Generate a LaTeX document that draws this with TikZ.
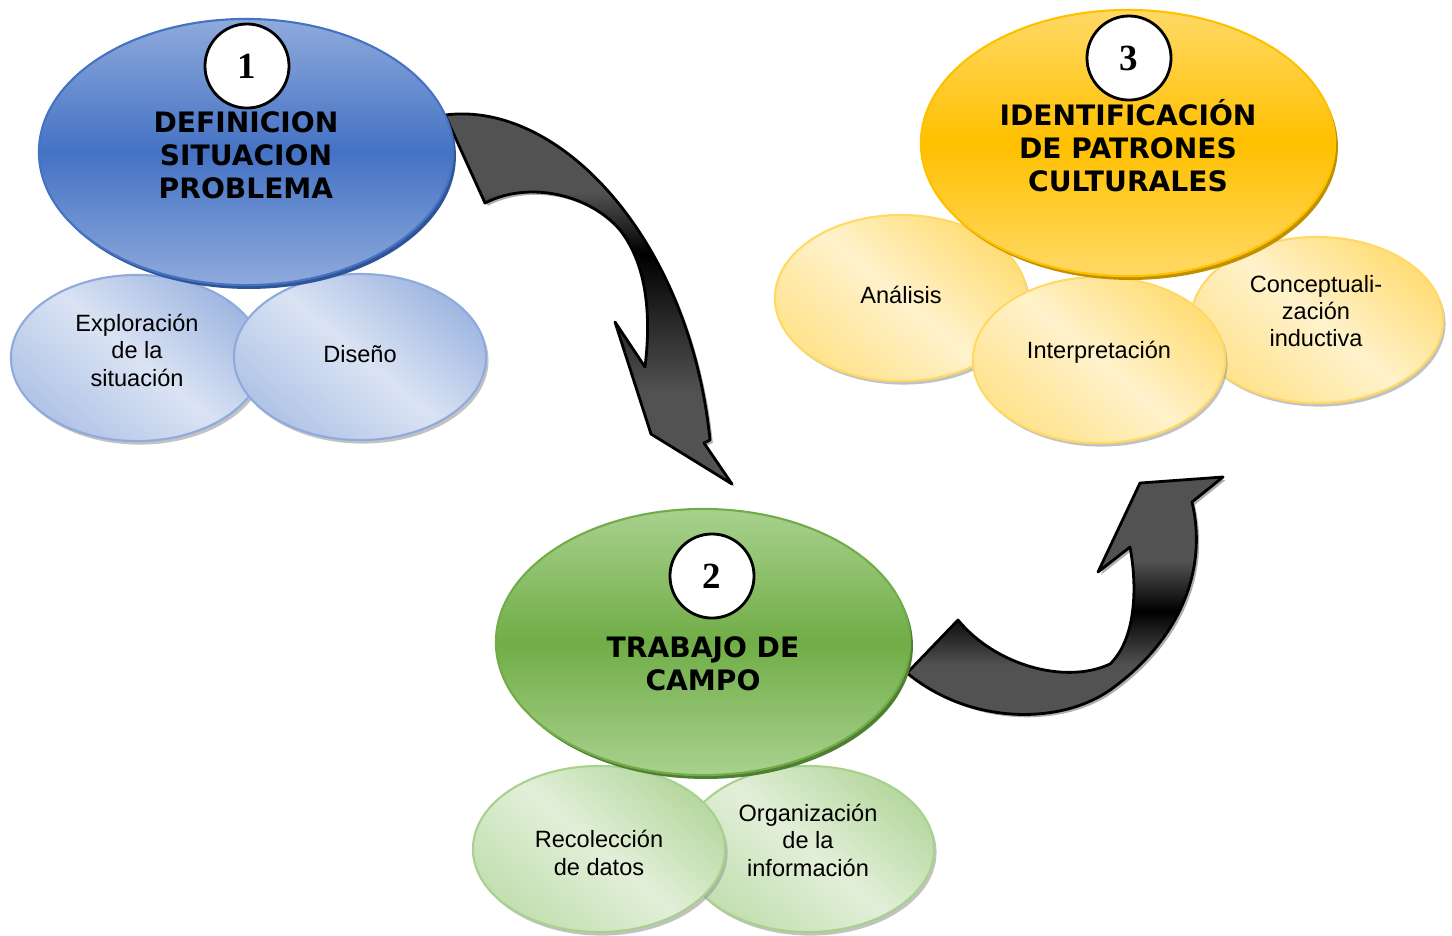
\documentclass[tikz,border=0pt]{standalone}
\usepackage{fontspec}
\setmainfont{Liberation Sans}
\newfontfamily\titlefont{DejaVu Sans}
\newfontfamily\numfont{Liberation Serif}
\usetikzlibrary{shapes.geometric,shadows}

\definecolor{blDark}{HTML}{2F5597}
\definecolor{blMid}{HTML}{4472C4}
\definecolor{blLight}{HTML}{8FAADC}
\definecolor{blPale}{HTML}{DAE3F3}
\definecolor{grDark}{HTML}{507E32}
\definecolor{grMid}{HTML}{70AD47}
\definecolor{grLight}{HTML}{A9D18E}
\definecolor{grPale}{HTML}{E2EFD9}
\definecolor{orDark}{HTML}{BF9000}
\definecolor{orMid}{HTML}{FFC000}
\definecolor{orLight}{HTML}{FFD966}
\definecolor{orPale}{HTML}{FFF2CC}
\definecolor{arGray}{HTML}{525252}

\pgfdeclareverticalshading{arrowA}{100bp}{color(0bp)=(arGray); color(37bp)=(arGray); color(55bp)=(black); color(63bp)=(arGray); color(100bp)=(arGray)}
\pgfdeclareverticalshading{arrowB}{100bp}{color(0bp)=(arGray); color(37bp)=(arGray); color(48bp)=(black); color(58bp)=(arGray); color(100bp)=(arGray)}

\begin{document}
\begin{tikzpicture}[x=0.01cm,y=-0.01cm,
  big/.style={ellipse,minimum width=4.14cm,minimum height=2.66cm,inner sep=0pt,line width=0.6pt},
  small/.style={ellipse,minimum width=2.52cm,minimum height=1.66cm,inner sep=0pt,line width=0.6pt,
    drop shadow={shadow xshift=0.7pt,shadow yshift=-1pt,fill=black!40,opacity=0.6}},
  subtext/.style={align=center,font=\fontsize{6.7}{7.8}\selectfont},
  num/.style={circle,draw=black,fill=white,line width=0.8pt,minimum size=0.84cm,inner sep=0pt,
    font=\numfont\bfseries\fontsize{10.5}{12}\selectfont},
  title/.style={align=center,font=\titlefont\bfseries\fontsize{8}{9.4}\selectfont},
  bigarrow/.style={draw=black,line width=0.8pt,line join=round,shade,
    drop shadow={shadow xshift=0.8pt,shadow yshift=-0.8pt,fill=black!45,opacity=0.7}},
  blsub/.style={small,draw=blLight,top color=blLight!85,bottom color=blLight!70,middle color=blPale,shading angle=-40},
  grsub/.style={small,draw=grLight,top color=grLight!85,bottom color=grLight!70,middle color=grPale,shading angle=-40},
  orsub/.style={small,draw=orLight,top color=orLight!90,bottom color=orLight!75,middle color=orPale,shading angle=-40},
  blmain/.style={big,draw=blMid,top color=blLight,bottom color=blLight,middle color=blMid,
    drop shadow={shadow xshift=0.8pt,shadow yshift=-1.1pt,fill=blDark,opacity=1}},
  grmain/.style={big,draw=grMid,top color=grLight,bottom color=grLight,middle color=grMid,
    drop shadow={shadow xshift=0.8pt,shadow yshift=-1.1pt,fill=grDark,opacity=1}},
  ormain/.style={big,draw=orMid,top color=orLight,bottom color=orLight,middle color=orMid,
    drop shadow={shadow xshift=0.8pt,shadow yshift=-1.1pt,fill=orDark,opacity=1}}
]
\useasboundingbox (0,0) rectangle (1452,935);

% curved arrows, behind the ellipses
\draw[bigarrow,shading=arrowA] (445,115) .. controls (560,100) and (690,240) .. (710,440)
  -- (704,443) -- (732,484) -- (651,434) -- (615,322) -- (645,367)
  .. controls (652,310) and (645,262) .. (620,230)
  .. controls (590,195) and (530,180) .. (485,203) -- cycle;
\draw[bigarrow,shading=arrowB] (907,673) -- (958,620)
  .. controls (995,665) and (1065,685) .. (1110,664)
  .. controls (1135,640) and (1138,590) .. (1130,547)
  -- (1098,572) -- (1140,483) -- (1223,477) -- (1192,502)
  .. controls (1208,570) and (1180,640) .. (1110,690)
  .. controls (1060,725) and (970,725) .. cycle;

% step 1
\node[blsub] (explo) at (137,358) {};
\node[subtext] (explo-t) at (137,350) {Exploración\\de la\\situación};
\node[blsub] (dise) at (360,357) {};
\node[subtext] (dise-t) at (360,354) {Diseño};
\node[blmain] (defin) at (246,152) {};
\node[num] (n1) at (247,66) {1};
\node[title] (defin-t) at (246,155) {DEFINICION\\SITUACION\\PROBLEMA};

% step 2
\node[grsub] (orga) at (808,849) {};
\node[subtext] (orga-t) at (808,840) {Organización\\de la\\información};
\node[grsub] (recol) at (599,849) {};
\node[subtext] (recol-t) at (599,853) {Recolección\\de datos};
\node[grmain] (campo) at (703,642) {};
\node[num] (n2) at (712,576) {2};
\node[title] (campo-t) at (703,664) {TRABAJO DE\\CAMPO};

% step 3
\node[orsub] (anal) at (901,298) {};
\node[subtext] (anal-t) at (901,295) {Análisis};
\node[orsub] (conc) at (1317,320) {};
\node[subtext] (conc-t) at (1316,311) {Conceptuali-\\zación\\inductiva};
\node[orsub] (interp) at (1099,360) {};
\node[subtext] (interp-t) at (1099,352) {Interpretación};
\node[ormain] (ident) at (1128,143) {};
\node[num] (n3) at (1129,58) {3};
\node[title] (ident-t) at (1128,146) {IDENTIFICACIÓN\\DE PATRONES\\CULTURALES};
\end{tikzpicture}
\end{document}
